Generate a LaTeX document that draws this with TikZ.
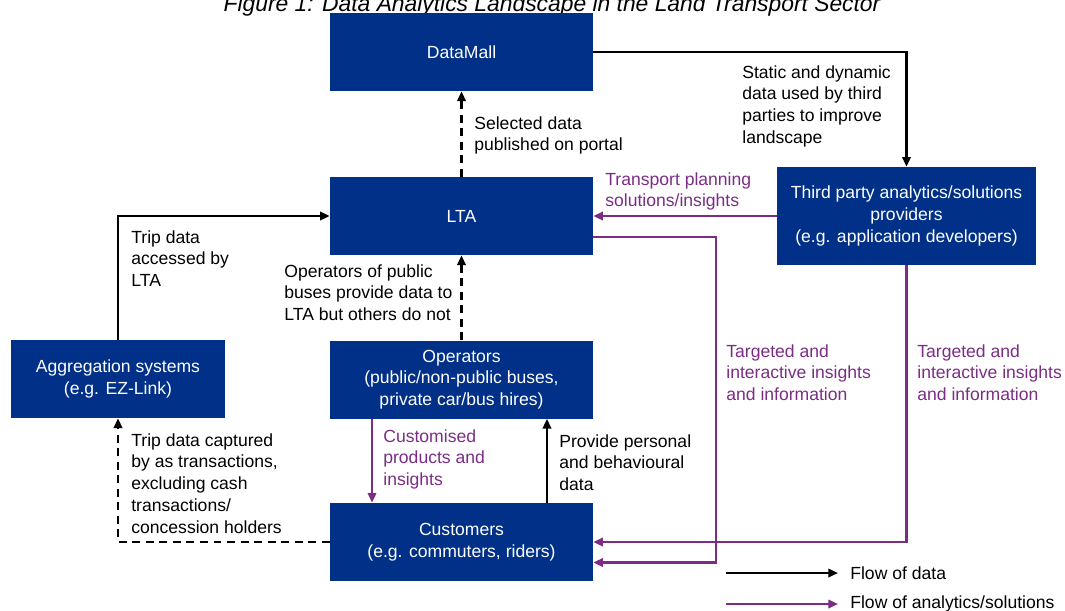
\documentclass[tikz,border=0pt]{standalone}
\usepackage{fontspec}
\setmainfont{Liberation Sans}
\usetikzlibrary{arrows.meta}

\definecolor{boxblue}{HTML}{003087}
\definecolor{flowpurple}{HTML}{7B2D85}

\begin{document}
\begin{tikzpicture}[
  x=0.02cm, y=-0.02cm,
  line join=miter,
  every node/.style={font=\fontsize{10}{12.4}\selectfont, inner sep=0pt},
  box/.style={fill=boxblue, text=white, align=center, minimum width=5.26cm, minimum height=1.56cm},
  note/.style={anchor=north west, align=left},
  pnote/.style={note, text=flowpurple},
  data/.style={draw=black, line width=1.25pt, -{Triangle[length=5.5pt,width=4.8pt]}},
  analytics/.style={draw=flowpurple, line width=1.25pt, -{Triangle[length=5.5pt,width=4.8pt]}},
  dashedline/.style={dash pattern=on 4.5pt off 3.2pt},
]
\useasboundingbox (0,0) rectangle (1065,610);
\node[anchor=base, font=\fontsize{13}{15}\selectfont\itshape] (title) at (552,11) {Figure 1: Data Analytics Landscape in the Land Transport Sector};

% boxes
\node[box] (datamall) at (461.5,52) {DataMall};
\node[box] (lta) at (461.5,216) {LTA};
\node[box] (operators) at (461.5,379.5) {Operators\\(public/non-public buses,\\private car/bus hires)};
\node[box] (customers) at (461.5,542) {Customers\\(e.g. commuters, riders)};
\node[box, minimum width=4.28cm] (aggregation) at (118,379) {Aggregation systems\\(e.g. EZ-Link)};
\node[box, minimum width=5.18cm, minimum height=1.96cm] (thirdparty) at (906.5,216) {Third party analytics/solutions\\providers\\(e.g. application developers)};

% flows
\draw[data] (datamall.east) -| (thirdparty.north);
\draw[data, dashedline] (lta.north) -- (datamall.south);
\draw[analytics] (thirdparty.west) -- (lta.east);
\draw[analytics] ([yshift=-0.42cm]lta.east) -- ++(123,0) |- ([yshift=-0.41cm]customers.east);
\draw[analytics] (thirdparty.south) |- (customers.east);
\draw[data] (aggregation.north) |- (lta.west);
\draw[data, dashedline] (operators.north) -- (lta.south);
\draw[analytics] ([xshift=-1.79cm]operators.south) -- ([xshift=-1.79cm]customers.north);
\draw[data] ([xshift=1.71cm]customers.north) -- ([xshift=1.71cm]operators.south);
\draw[data, dashedline] (customers.west) -| (aggregation.south);

% labels
\node[note] (selected) at (474,116) {Selected data\\published on portal};
\node[note] (static) at (742,65) {Static and dynamic\\data used by third\\parties to improve\\landscape};
\node[pnote] (planning) at (605,172) {Transport planning\\solutions/insights};
\node[note] (accessed) at (131,230) {Trip data\\accessed by\\LTA};
\node[note] (publicbus) at (284,264) {Operators of public\\buses provide data to\\LTA but others do not};
\node[pnote] (targeted) at (726,344) {Targeted and\\interactive insights\\and information};
\node[pnote] (targetedb) at (917,344) {Targeted and\\interactive insights\\and information};
\node[pnote] (customised) at (383,429) {Customised\\products and\\insights};
\node[note] (personal) at (559,434) {Provide personal\\and behavioural\\data};
\node[note] (captured) at (131,433) {Trip data captured\\by as transactions,\\excluding cash\\transactions/\\concession holders};

% legend
\coordinate (legdataA) at (726,573);
\coordinate (legdataB) at (838,573);
\coordinate (leganaA) at (726,604);
\coordinate (leganaB) at (838,604);
\draw[data] (legdataA) -- (legdataB);
\draw[analytics] (leganaA) -- (leganaB);
\node[anchor=west] (legdata) at (850,573) {Flow of data};
\node[anchor=west] (legana) at (850,604) {Flow of analytics/solutions};
\end{tikzpicture}
\end{document}
